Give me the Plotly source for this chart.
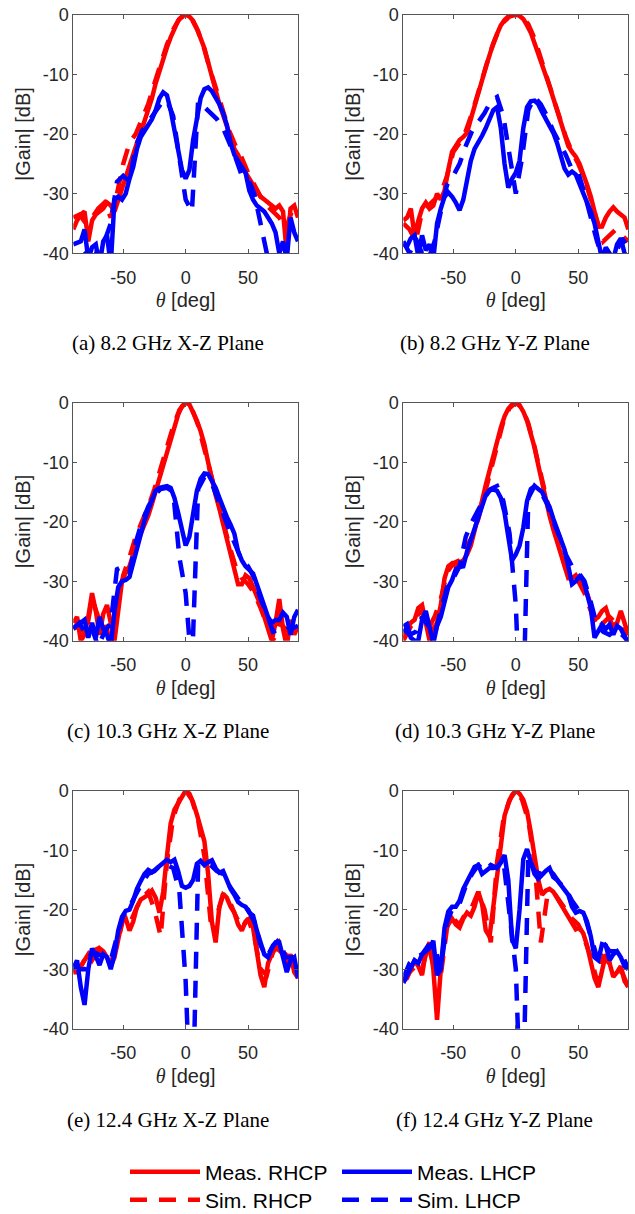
import plotly.graph_objects as go

# ---------------- data ----------------
THETA_MEAS = list(range(-90, 91, 3))   # 61 points
THETA_SIM = list(range(-90, 91, 5))    # 37 points

CAPTIONS = ["(a) 8.2 GHz X-Z Plane", "(b) 8.2 GHz Y-Z Plane",
            "(c) 10.3 GHz X-Z Plane", "(d) 10.3 GHz Y-Z Plane",
            "(e) 12.4 GHz X-Z Plane", "(f) 12.4 GHz Y-Z Plane"]

X_TICKS = [-50, 0, 50]
X_TICKTEXT = ["-50", "0", "50"]
Y_TICKS = [-40, -30, -20, -10, 0]
Y_TICKTEXT = ["-40", "-30", "-20", "-10", "0"]

# (a) 8.2 GHz X-Z
A_MEAS_R = [-36, -34.5, -33.5, -33, -38, -34.5, -33.5, -33, -32.5, -31.5, -32, -33, -31, -29, -27, -25, -23, -21.5,
            -19.8, -18, -16, -14, -11.5, -9.3, -7.3, -5.5, -3.8, -2.2, -1, -0.3, 0, -0.3, -1, -2.3, -3.8, -5.6, -8,
            -10.5, -12.8, -15, -16.8, -18.5, -20.5, -22.5, -23.5, -25, -26.5, -27.5, -28.5, -29.5, -30.5, -31, -31.5,
            -32, -32.5, -32, -33, -40, -32.5, -32, -34]
A_SIM_R = [-34, -33.5, -35, -34, -32.5, -31.5, -34, -30, -25, -21.5, -20, -17.5, -15, -11.5, -8, -5, -2.5, -0.7, 0,
           -0.8, -2.8, -5.8, -9.5, -13, -16.5, -19.5, -22, -24, -26.5, -28.5, -30.5, -32, -33, -34, -36, -33, -34]
A_MEAS_L = [-38.5, -38.3, -38, -36, -41, -39, -38.5, -42, -38, -37, -42, -31, -30.5, -31, -30, -27.5, -25.5, -22.5,
            -20.5, -19.5, -18.5, -17.5, -16, -14, -13, -13.5, -16, -19.5, -23, -26, -27.5, -26, -21, -17, -14, -12.5,
            -12.2, -12.8, -13.8, -15, -16.5, -18.5, -21.5, -23.5, -24.5, -25.5, -26.5, -29.5, -31, -32, -32.5, -33,
            -34, -35, -36.5, -40, -38, -41, -34, -36.5, -38]
A_SIM_L = [-40.5, -41, -40, -42, -39, -38, -35, -28, -27, -28, -22, -19.5, -18, -16.5, -15, -14.3, -17, -24, -31,
           -33, -14.5, -15.5, -16.5, -17.5, -19, -21.5, -24, -27, -27.5, -30, -35, -40, -45, -45, -45, -45, -45]

# (b) 8.2 GHz Y-Z
B_MEAS_R = [-34.5, -34, -32.5, -37, -34.5, -32.5, -31.5, -32.5, -32, -30, -31, -29.5, -26, -23, -22, -21, -20.5,
            -19.8, -17.5, -15.5, -13, -11, -8.8, -6.5, -4.8, -3.2, -1.8, -0.9, -0.3, -0.05, 0, -0.2, -0.7, -1.8, -3,
            -4.8, -6.5, -8.3, -10, -12, -14, -16, -17.8, -20, -22, -23, -23.8, -25, -26.6, -28.5, -30.5, -32.7, -35.5,
            -35.5, -34, -33, -32.3, -33, -33.5, -34, -36]
B_SIM_R = [-35, -36, -38, -33, -32, -31, -30, -27, -23, -21.5, -19.5, -16.5, -13, -9.5, -6, -3.3, -1.3, -0.3, 0,
           -0.4, -1.6, -4, -7.3, -11, -14.3, -17.5, -20.5, -23, -25, -27.5, -31, -35, -38, -37, -36, -37, -38]
B_MEAS_L = [-38.5, -38.8, -37.5, -37, -40.5, -37, -39.5, -38.5, -41, -35, -32.5, -30.5, -29.8, -30.5, -31.5, -32.8,
            -31, -27.5, -24.5, -22.5, -21.5, -20.3, -19, -17.5, -16, -15.5, -19, -25, -29, -27.5, -26.5, -24.5, -19,
            -15.5, -14.5, -14.4, -15, -16.3, -17.5, -18.3, -19.8, -21.5, -24, -25.8, -26.8, -26.3, -26.8, -28.5, -30,
            -31.5, -33, -35, -38, -41, -39, -40, -41, -38.5, -37.5, -40, -41]
B_SIM_L = [-38, -40, -37.5, -40, -41, -38, -33, -28.5, -27, -25, -22, -19.5, -18, -16.5, -14.5, -13.8, -17, -24,
           -30, -24, -16, -13.8, -15, -17, -19.5, -21.5, -23.5, -26, -26.5, -30, -34, -38, -41, -42, -40, -37.5, -39]

# (c) 10.3 GHz X-Z
C_MEAS_R = [-37, -36, -40, -39, -36, -32, -35, -39, -35.5, -34, -37, -40, -35, -30, -28.5, -27.5, -25.5, -23.5,
            -22, -20.5, -19, -17, -14.8, -12.8, -10.8, -8.8, -6.2, -3.8, -2, -0.6, 0, -0.3, -1.5, -3, -4.8, -7, -10,
            -13, -15.5, -17.8, -20.3, -22.5, -25, -28, -30.5, -30.5, -29, -29.5, -31, -32.5, -34, -36, -38, -40, -37,
            -33, -38, -41, -36.5, -39, -37.5]
C_SIM_R = [-38, -37.5, -39, -33, -36, -36, -41, -35, -29, -26, -22.5, -20, -17.5, -14.5, -11, -7.5, -4, -1.2, 0,
           -1, -3.8, -7.8, -12, -16, -20, -24, -27.5, -29.5, -30.5, -32, -34.5, -37.5, -40, -37, -38, -39, -37.5]
C_MEAS_L = [-37.8, -37.5, -37, -36.5, -39.5, -37, -39.5, -36, -38, -39, -41, -35, -31, -30, -29.8, -29.3, -27,
            -24.3, -21.8, -19.8, -18, -16.3, -14.8, -14.3, -14.1, -14, -14.3, -16, -18.5, -21.4, -24, -22.5, -18,
            -14.8, -12.8, -11.9, -12, -13, -14.3, -16, -17.8, -19.2, -20.5, -22, -25, -26.5, -27.5, -28, -28.7,
            -30.5, -32.5, -34, -36, -37, -36.5, -36.5, -35.3, -36, -39, -36, -34.8]
C_SIM_L = [-38, -37, -39, -38, -41, -38.5, -37, -28, -27.5, -28.5, -23.5, -20, -17.5, -15.5, -14.5, -14.3, -15,
           -26, -32, -45, -14.5, -12.5, -13, -16, -19, -21.5, -24, -26.5, -27.5, -29.5, -33, -35.5, -38.5, -38,
           -37.5, -38, -37.5]

# (d) 10.3 GHz Y-Z
D_MEAS_R = [-39.5, -38, -37, -36.5, -34.5, -34, -37, -40, -38, -37, -34, -29.5, -27.5, -27, -27.5, -27, -26.5,
            -25.5, -24, -21.5, -19.2, -16.5, -13.8, -11.3, -9, -6.5, -4.2, -2.3, -1, -0.3, 0, -0.4, -1.5, -3, -5,
            -7.5, -10.5, -13.5, -16.5, -19, -21.3, -23.5, -25.5, -27.5, -29.5, -29.5, -29, -30, -31, -32, -34, -36.5,
            -36, -35, -34.5, -36.5, -37.5, -37, -35, -37, -39]
D_SIM_R = [-40, -38, -36, -35, -38, -36, -33, -28.5, -27, -26.5, -24.5, -22.5, -19.5, -15.5, -11, -6.8, -3.2, -0.9,
           0, -0.9, -3.5, -7.5, -12.3, -16.5, -20.5, -24.5, -28, -29.5, -30, -32, -35, -38, -37, -36, -37, -38, -39]
D_MEAS_L = [-37.6, -37.2, -39.5, -40, -40, -36.5, -35, -37.5, -40.5, -37.5, -36, -33.5, -31, -29.8, -28, -27.6,
            -27.5, -25, -23, -21, -19.2, -17, -15.5, -14.7, -14.6, -14.8, -16, -18.5, -22.5, -26.5, -25.5, -24, -21,
            -16.5, -14.5, -14, -14.5, -15, -16.3, -17.5, -19.5, -21.3, -23, -24.7, -27.5, -30.5, -30, -29.2, -29.8,
            -32, -34.5, -39.5, -38.5, -37.3, -38, -37.3, -39, -37.5, -38, -39.5, -40.5]
D_SIM_L = [-38, -39, -38.5, -36, -37.5, -39, -35, -31, -29.5, -27.5, -22.5, -20, -18, -16, -14.5, -14, -16.5, -22,
           -34, -60, -16, -14, -15, -17, -20, -22.5, -25.5, -27.5, -28.5, -30, -33.5, -37.5, -38.5, -39, -38, -39,
           -40]

# (e) 12.4 GHz X-Z
E_MEAS_R = [-30.5, -30.5, -29.5, -28.5, -27.5, -28.5, -27.5, -26.5, -27, -28, -29.5, -28, -25, -22, -21.5, -23.5,
            -22, -19.5, -18.3, -18, -17.5, -16.8, -18, -20.5, -17, -11, -5.5, -3.2, -2, -0.8, 0, -0.5, -2, -4, -6,
            -8.5, -14, -22, -25.5, -19.5, -17.3, -18, -19.5, -20.5, -22.5, -23.5, -22, -21.5, -23, -26.5, -31, -33,
            -29, -27.5, -26.5, -26.8, -27.5, -29, -27.5, -30.5, -31.5]
E_SIM_R = [-30.5, -30, -28, -27, -26.5, -27.5, -29, -26, -21.5, -22.5, -20, -18, -17, -20, -24.5, -12, -4.5, -1.5,
           0, -1.5, -5, -11, -22, -21, -17.5, -18.5, -21, -23, -21.5, -24.5, -30, -31, -27, -25.5, -27.5, -28.5, -31]
E_MEAS_L = [-30, -28.5, -33, -36, -30, -26.5, -27.8, -29.3, -27.5, -28, -30, -27.5, -23.5, -21.2, -20.2, -20,
            -18.5, -16.5, -15.2, -14, -13.3, -13.7, -13.2, -12.6, -12, -11.6, -12, -11.6, -13.5, -16, -16.3, -16,
            -15, -12.3, -11.8, -12.5, -12, -11.7, -13, -13.8, -13.5, -15, -16.5, -17.5, -18.7, -19.2, -19.5, -20.5,
            -21, -23.5, -25.8, -27.5, -28, -26.5, -25.5, -25.5, -28, -30.5, -28.5, -28, -31.5]
E_SIM_L = [-29, -30, -30, -27, -27.5, -28, -28.5, -24.5, -21, -19.5, -17.5, -15.5, -14, -13.5, -12.5, -12.5, -13,
           -17, -32, -60, -12.5, -12.5, -12.5, -13.5, -14, -16, -17.5, -19, -20, -22, -26, -28, -26, -25, -28, -28,
           -31]

# (f) 12.4 GHz Y-Z
F_MEAS_R = [-32, -31.5, -30, -28.5, -29.5, -31, -27, -25.5, -30, -38.5, -30, -24, -22.5, -21.5, -22.5, -23, -21.5,
            -20.5, -21, -19.5, -17, -19, -23.5, -24.5, -19.5, -14.5, -9, -4.2, -2.2, -0.7, 0, -0.5, -1.5, -3.5, -7,
            -11, -15, -17.5, -16.8, -16.5, -17, -18, -19, -20, -21, -22, -23.3, -23, -24, -26, -28.5, -31.5, -33, -30,
            -27.5, -29, -31.3, -30.5, -29.5, -32, -33]
F_SIM_R = [-32, -30.5, -29.5, -30, -26, -30, -31, -23, -21.5, -22.5, -20.5, -19.5, -17, -20, -25.5, -12, -5, -1.5,
           0, -1.5, -5, -12, -25.5, -18, -17, -18.5, -20, -21.5, -22.5, -25, -28, -32, -28, -29, -30, -30.5, -33]
F_MEAS_L = [-32.3, -31, -29.5, -28.5, -29, -27.5, -27, -26.5, -25.2, -31, -30, -23, -20.3, -19.5, -19.5, -18.5,
            -16.5, -15.3, -14.2, -12.8, -12.5, -14, -13.5, -13, -13, -12.8, -12, -10.8, -15, -25, -26.5, -20, -11.5,
            -9.8, -12, -14, -14.8, -14, -13.5, -13, -14.5, -15, -15.8, -16.5, -17.5, -19.5, -20.5, -20.2, -20.5, -22,
            -24.5, -28, -28.5, -25.8, -26, -28.5, -27.5, -27, -28, -29.5, -30]
F_SIM_L = [-31.5, -29, -28, -27.5, -26, -26, -30, -22, -19.5, -19, -16, -14, -12.5, -13.5, -12.5, -13, -11.5, -20,
           -30, -60, -11, -13.5, -14, -13, -14, -15.5, -16.5, -18.5, -20, -21, -24.5, -28, -25.5, -27, -27, -27.5,
           -30]

PANELS = [
    (A_MEAS_R, A_SIM_R, A_MEAS_L, A_SIM_L),
    (B_MEAS_R, B_SIM_R, B_MEAS_L, B_SIM_L),
    (C_MEAS_R, C_SIM_R, C_MEAS_L, C_SIM_L),
    (D_MEAS_R, D_SIM_R, D_MEAS_L, D_SIM_L),
    (E_MEAS_R, E_SIM_R, E_MEAS_L, E_SIM_L),
    (F_MEAS_R, F_SIM_R, F_MEAS_L, F_SIM_L),
]

# ---------------- layout ----------------
W, H = 635, 1214
COL_X = [(73.3, 298.0), (403.3, 628.3)]
ROW_Y = [(14.7, 253.3), (402.7, 640.7), (790.7, 1028.7)]
CAP_X = [168, 495]
CAP_Y = [343, 731, 1120]

RED = "#ff0000"
BLUE = "#0000ff"
LW = 4.5
DASH = "17px,12px"
TICKFONT = dict(family="Liberation Sans, Arial, sans-serif", size=18, color="#262626")
TITLEFONT = dict(family="Liberation Sans, Arial, sans-serif", size=20, color="#262626")
LEGFONT = dict(family="Liberation Sans, Arial, sans-serif", size=21, color="#000000")

fig = go.Figure()
# name, colour, dash, theta, legend rank, legend row
series_meta = [
    ("Meas. RHCP", RED, "solid", THETA_MEAS, 1, "legend"),
    ("Sim. RHCP", RED, DASH, THETA_SIM, 3, "legend2"),
    ("Meas. LHCP", BLUE, "solid", THETA_MEAS, 2, "legend"),
    ("Sim. LHCP", BLUE, DASH, THETA_SIM, 4, "legend2"),
]

layout = {}
annotations = []
for i, panel in enumerate(PANELS):
    r, c = divmod(i, 2)
    xs = "" if i == 0 else str(i + 1)
    for (name, color, dash, theta, rank, leg), vals in zip(series_meta, panel):
        fig.add_trace(go.Scatter(
            x=theta, y=vals, mode="lines", name=name,
            line=dict(color=color, width=LW, dash=dash),
            legendgroup=name, showlegend=(i == 0), legendrank=rank, legend=leg,
            xaxis="x" + xs, yaxis="y" + xs, hoverinfo="skip"))
    x0, x1 = COL_X[c]
    y0, y1 = ROW_Y[r]
    common = dict(showgrid=False, zeroline=False, showline=True, linecolor="#555555", linewidth=1,
                  mirror="ticks", ticks="inside", ticklen=4, tickcolor="#555555", tickfont=TICKFONT)
    layout["xaxis" + xs] = dict(
        domain=[x0 / W, x1 / W], range=[-90, 90], anchor="y" + xs,
        tickvals=X_TICKS, ticktext=X_TICKTEXT, ticklabelstandoff=8,
        title=dict(text='<span style="font-family:Liberation Serif"><i>θ</i></span> [deg]',
                   font=TITLEFONT, standoff=6),
        **common)
    layout["yaxis" + xs] = dict(
        domain=[1 - y1 / H, 1 - y0 / H], range=[-40, 0], anchor="x" + xs,
        tickvals=Y_TICKS, ticktext=Y_TICKTEXT,
        title=dict(text="|Gain| [dB]", font=TITLEFONT, standoff=6),
        **common)
    annotations.append(dict(
        text=CAPTIONS[i], x=CAP_X[c] / W, y=1 - CAP_Y[r] / H, xref="paper", yref="paper",
        xanchor="center", yanchor="middle", showarrow=False,
        font=dict(family="Liberation Serif, Times New Roman, serif", size=21, color="#000000")))

legend_common = dict(orientation="h", x=125 / W, xanchor="left", yanchor="middle",
                     entrywidth=127, entrywidthmode="pixels", itemwidth=70,
                     font=LEGFONT, bgcolor="rgba(0,0,0,0)", tracegroupgap=0)

fig.update_layout(
    width=W, height=H, autosize=False,
    margin=dict(l=0, r=0, t=0, b=0, autoexpand=False),
    paper_bgcolor="white", plot_bgcolor="white",
    annotations=annotations,
    legend=dict(y=1 - 1172 / H, **legend_common),
    legend2=dict(y=1 - 1200 / H, **legend_common),
    showlegend=True,
    **layout)

fig.write_html("out.html", config={"displayModeBar": False},
               post_script="document.body.style.margin='0px';document.body.style.overflow='hidden';")
